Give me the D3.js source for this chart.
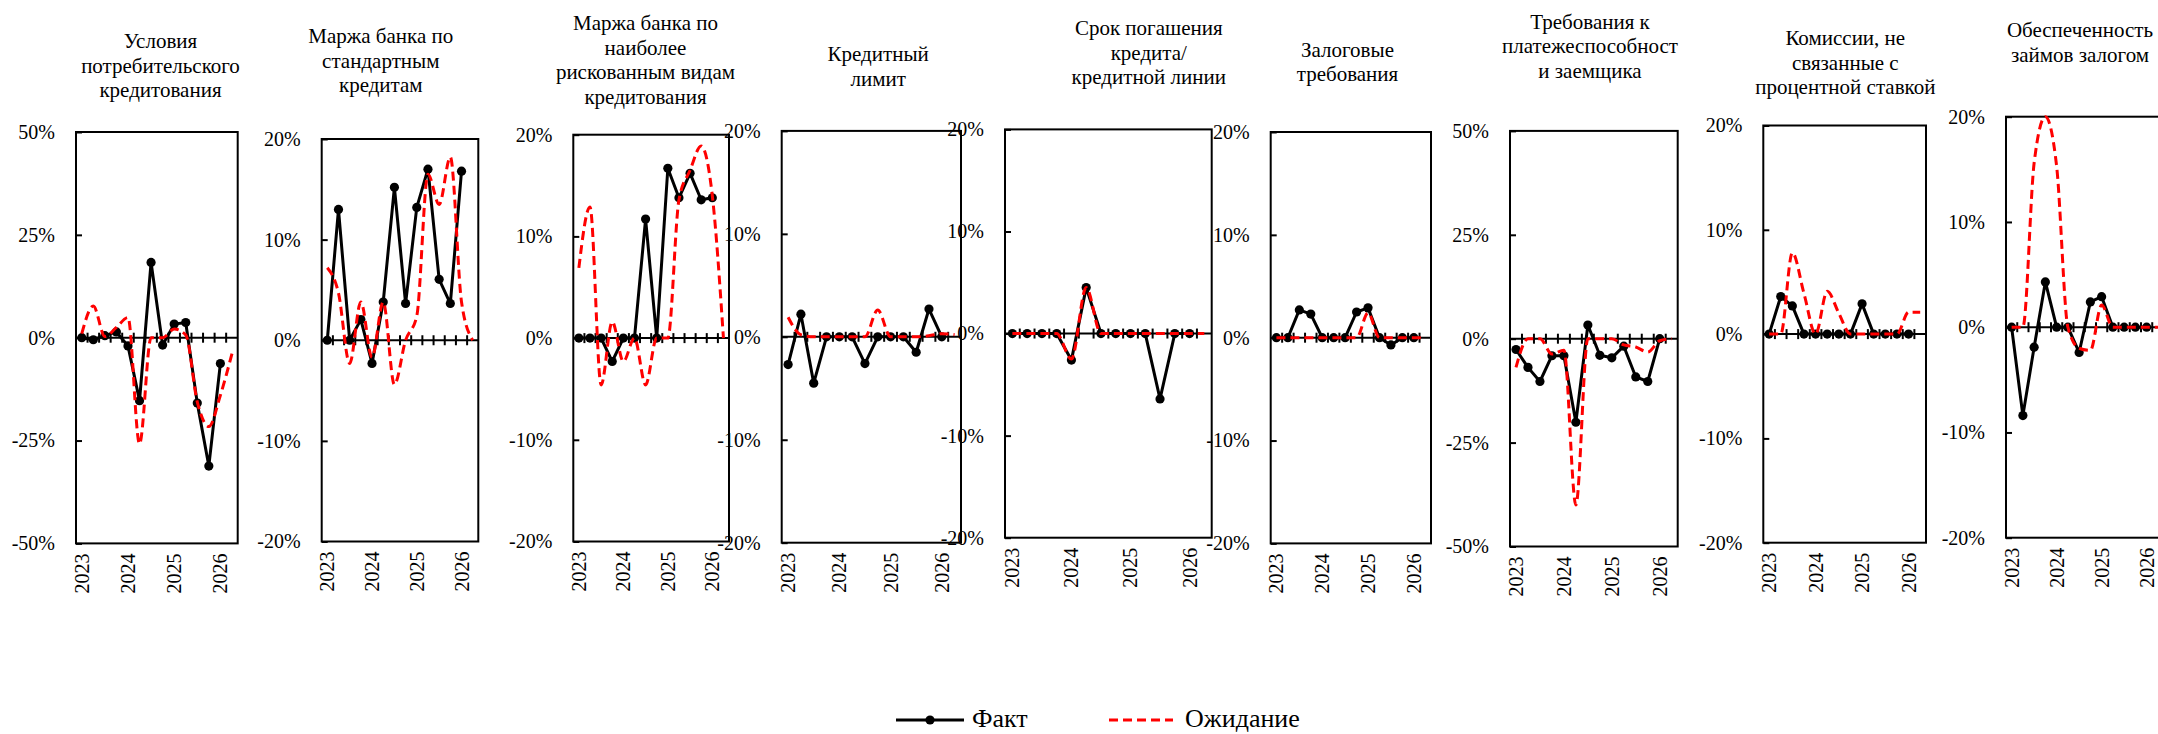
<!DOCTYPE html>
<html>
<head>
<meta charset="utf-8">
<script src="https://cdn.jsdelivr.net/npm/d3@7"></script>
<style>
  body { margin: 0; background: #fff; }
  svg { display: block; }
</style>
</head>
<body>
<svg id="chart" width="2158" height="734"></svg>
<script>
// Quarters on the horizontal axis (2023 Q1 … 2026 Q2); a year is printed at each first quarter
const quarters = [
  "I 2023", "II 2023", "III 2023", "IV 2023",
  "I 2024", "II 2024", "III 2024", "IV 2024",
  "I 2025", "II 2025", "III 2025", "IV 2025",
  "I 2026", "II 2026"
];
const yearLabels = { "I 2023": "2023", "I 2024": "2024", "I 2025": "2025", "I 2026": "2026" };

// Panel titles
const titles = [
  ["Условия", "потребительского", "кредитования"],
  ["Маржа банка по", "стандартным", "кредитам"],
  ["Маржа банка по", "наиболее", "рискованным видам", "кредитования"],
  ["Кредитный", "лимит"],
  ["Срок погашения", "кредита/", "кредитной линии"],
  ["Залоговые", "требования"],
  ["Требования к", "платежеспособност", "и заемщика"],
  ["Комиссии, не", "связанные с", "процентной ставкой"],
  ["Обеспеченность", "займов залогом"]
];

// Balance of responses, % — actual (Факт) and expected (Ожидание)
const factConsumer   = [0, -0.5, 0.5, 1.4, -2, -15.3, 18.3, -1.8, 3.3, 3.7, -15.9, -31.2, -6.3];
const expConsumer    = [1, 7.7, 0.3, 2.5, 4.9, -25.8, 0, 0, 2.1, 0.7, -15.6, -21.6, -14, -3.9];

const factMarginStd  = [0, 13.0, 0, 2.05, -2.3, 3.8, 15.2, 3.65, 13.2, 17.0, 6.05, 3.65, 16.8];
const expMarginStd   = [7.2, 4.7, -2.3, 3.8, -1.7, 3.8, -4.4, 0, 2.4, 16.5, 13.5, 18.2, 3.8, 0];

const factMarginRisk = [0, 0, 0, -2.3, 0, 0, 11.7, 0, 16.7, 13.8, 16.2, 13.6, 13.8];
const expMarginRisk  = [6.9, 12.9, -4.6, 1.6, -2.3, 0, -4.6, 0, 0, 13.6, 16.5, 18.9, 14, 0];

const factLimit      = [-2.7, 2.2, -4.5, 0, 0, 0, -2.6, 0, 0, 0, -1.5, 2.7, 0];
const expLimit       = [1.9, 0.2, 0, 0, 0, 0, 0, 2.6, 0, 0, 0, 0.1, 0.3, 0.2];

const factMaturity   = [0, 0, 0, 0, -2.6, 4.5, 0, 0, 0, 0, -6.4, 0, 0];
const expMaturity    = [0, 0, 0, 0, -2.5, 4.5, 0, 0, 0, 0, 0, 0, 0, 0];

const factCollateral = [0, 0, 2.7, 2.3, 0, 0, 0, 2.5, 2.9, 0, -0.7, 0, 0];
const expCollateral  = [0, 0, 0, 0, 0, 0, 0, 0, 2.4, 0, 0, 0, 0, 0];

const factSolvency   = [-2.6, -6.9, -10.3, -4.1, -4.1, -20.1, 3.3, -4.0, -4.6, -1.8, -9.2, -10.3, 0];
const expSolvency    = [-6.9, 0, 0, -3.7, -2.8, -40, 0, 0, 0, -1.5, -2, -3.2, -0.5, 0];

const factFees       = [0, 3.6, 2.7, 0, 0, 0, 0, 0, 2.9, 0, 0, 0, 0];
const expFees        = [0, 0, 7.8, 3.9, 0, 4.1, 2.0, 0, 0, 0, 0, 0, 2.1, 2.1];

const factSecured    = [0, -8.4, -1.9, 4.3, 0, 0, -2.4, 2.4, 2.9, 0, 0, 0, 0];
const expSecured     = [0, 0, 15.6, 20, 15.3, 0, -2.0, -2.2, 2.1, 0, 0, 0, 0, 0];

const seriesFact = [factConsumer, factMarginStd, factMarginRisk, factLimit, factMaturity,
                    factCollateral, factSolvency, factFees, factSecured];
const seriesExp  = [expConsumer, expMarginStd, expMarginRisk, expLimit, expMaturity,
                    expCollateral, expSolvency, expFees, expSecured];

// Value-axis ranges (±max, tick step), %
const axisMax  = [50, 20, 20, 20, 20, 20, 50, 20, 20];
const axisStep = [25, 10, 10, 10, 10, 10, 25, 10, 10];

// Frame of each small multiple and where its title sits
const layout = [
  { left: 76,     right: 237.7,  top: 132,   bottom: 543.4, tx: 160.5,  ty: 48 },
  { left: 321.7,  right: 478.3,  top: 139,   bottom: 541.5, tx: 380.8,  ty: 43 },
  { left: 573.3,  right: 729,    top: 134.7, bottom: 541.5, tx: 645.5,  ty: 30 },
  { left: 781.7,  right: 961,    top: 130.9, bottom: 542.7, tx: 878.2,  ty: 61.2 },
  { left: 1005,   right: 1211.7, top: 129.4, bottom: 537.7, tx: 1148.8, ty: 35.2 },
  { left: 1270.7, right: 1431,   top: 132,   bottom: 543.4, tx: 1347.5, ty: 56.6 },
  { left: 1510,   right: 1677.7, top: 130.9, bottom: 546.5, tx: 1590,   ty: 28.7 },
  { left: 1763.3, right: 1926,   top: 125.5, bottom: 542.7, tx: 1845.3, ty: 45.2 },
  { left: 2006,   right: 2163.5, top: 116.7, bottom: 537.7, tx: 2080,   ty: 37.1 }
];

const FONT = "'Liberation Serif', 'Times New Roman', 'DejaVu Serif', serif";
const RED = "#ff0000";
const svg = d3.select("#chart");
svg.append("rect").attr("width", 2158).attr("height", 734).attr("fill", "#fff");

layout.forEach((p, i) => {
  const g = svg.append("g");
  const x = d3.scaleBand().domain(quarters).range([p.left, p.right]).padding(0);
  const y = d3.scaleLinear().domain([-axisMax[i], axisMax[i]]).range([p.bottom, p.top]);
  const cx = k => x(quarters[k]) + x.bandwidth() / 2;

  // title
  const t = g.append("text")
    .attr("font-family", FONT).attr("font-size", 21).attr("fill", "#000")
    .attr("text-anchor", "middle");
  titles[i].forEach((line, j) => {
    t.append("tspan").attr("x", p.tx).attr("y", p.ty + j * 24.5).text(line);
  });

  // plot frame
  g.append("rect")
    .attr("x", p.left).attr("y", p.top)
    .attr("width", p.right - p.left).attr("height", p.bottom - p.top)
    .attr("fill", "none").attr("stroke", "#000").attr("stroke-width", 2);

  // value axis with inward ticks
  const ticks = d3.range(-axisMax[i], axisMax[i] + 0.001, axisStep[i]);
  g.append("g")
    .attr("transform", `translate(${p.left},0)`)
    .call(d3.axisLeft(y).tickValues(ticks).tickSize(-6).tickPadding(21).tickFormat(v => v + "%"))
    .attr("font-family", FONT).attr("font-size", 20)
    .call(a => a.select(".domain").remove())
    .call(a => a.selectAll("line").attr("stroke", "#000").attr("stroke-width", 2))
    .call(a => a.selectAll("text").attr("fill", "#000"));

  // category axis along zero with tick marks between quarters
  g.append("line")
    .attr("x1", p.left).attr("x2", p.right)
    .attr("y1", y(0)).attr("y2", y(0))
    .attr("stroke", "#000").attr("stroke-width", 2);
  g.append("g").selectAll("line")
    .data(quarters.slice(1))
    .join("line")
    .attr("x1", q => x(q)).attr("x2", q => x(q))
    .attr("y1", y(0) - 5).attr("y2", y(0) + 5)
    .attr("stroke", "#000").attr("stroke-width", 2);

  // year labels below the frame, rotated
  g.append("g")
    .attr("transform", `translate(0,${p.bottom})`)
    .call(d3.axisBottom(x).tickValues(Object.keys(yearLabels)).tickSize(0).tickFormat(q => yearLabels[q]))
    .attr("font-family", FONT).attr("font-size", 20)
    .call(a => a.select(".domain").remove())
    .call(a => a.selectAll("text")
      .attr("fill", "#000")
      .attr("transform", "rotate(-90)")
      .attr("x", -10).attr("y", 0).attr("dy", "0.35em")
      .attr("text-anchor", "end"));

  // actual: solid line with markers
  const fact = seriesFact[i];
  g.append("path")
    .datum(fact)
    .attr("fill", "none").attr("stroke", "#000").attr("stroke-width", 3)
    .attr("stroke-linejoin", "round")
    .attr("d", d3.line().x((d, k) => cx(k)).y(d => y(d)));
  g.append("g").selectAll("circle")
    .data(fact)
    .join("circle")
    .attr("cx", (d, k) => cx(k)).attr("cy", d => y(d))
    .attr("r", 4.6).attr("fill", "#000");

  // expected: smoothed dashed red line
  const exp = seriesExp[i];
  g.append("path")
    .datum(exp)
    .attr("fill", "none").attr("stroke", RED).attr("stroke-width", 3)
    .attr("stroke-dasharray", "9,5")
    .attr("d", d3.line().curve(d3.curveMonotoneX).x((d, k) => cx(k)).y(d => y(d)));
});

// legend
const lg = svg.append("g").attr("font-family", FONT).attr("font-size", 26).attr("fill", "#000");
lg.append("line").attr("x1", 896).attr("x2", 964).attr("y1", 720).attr("y2", 720)
  .attr("stroke", "#000").attr("stroke-width", 3);
lg.append("circle").attr("cx", 930).attr("cy", 720).attr("r", 4.6).attr("fill", "#000");
lg.append("text").attr("x", 972).attr("y", 727).text("Факт");
lg.append("line").attr("x1", 1109).attr("x2", 1173).attr("y1", 720).attr("y2", 720)
  .attr("stroke", RED).attr("stroke-width", 3).attr("stroke-dasharray", "9,5");
lg.append("text").attr("x", 1185).attr("y", 727).text("Ожидание");
</script>
</body>
</html>
